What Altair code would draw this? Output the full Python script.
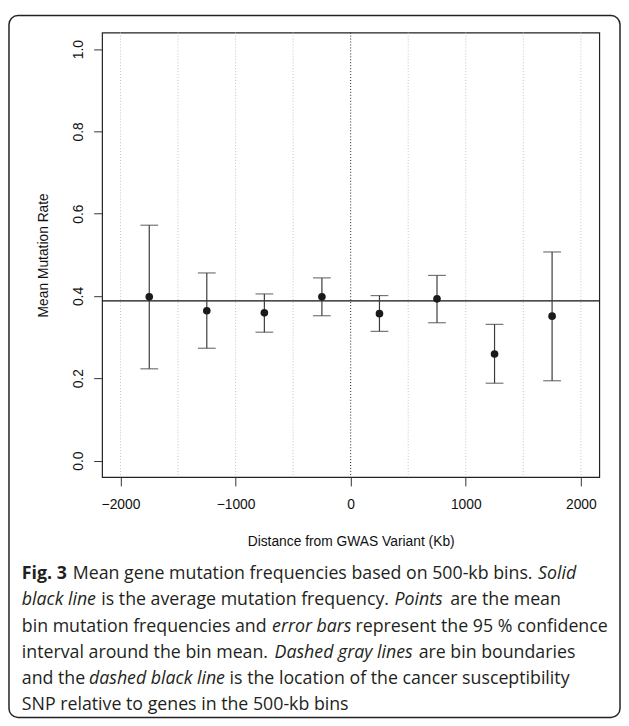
import altair as alt
import pandas as pd

# ---------------- data ----------------
bin_centers = [-1750, -1250, -750, -250, 250, 750, 1250, 1750]
bin_means = [0.398, 0.364, 0.359, 0.398, 0.357, 0.393, 0.259, 0.351]
ci_lower = [0.223, 0.273, 0.312, 0.352, 0.314, 0.335, 0.188, 0.194]
ci_upper = [0.572, 0.456, 0.405, 0.444, 0.401, 0.450, 0.331, 0.507]
overall_mean = [0.388]
bin_boundaries = [-2000, -1500, -1000, -500, 500, 1000, 1500, 2000]
snp_position = [0]
x_ticks = [-2000, -1000, 0, 1000, 2000]
y_ticks = [0.0, 0.2, 0.4, 0.6, 0.8, 1.0]

caption_lines = [
    [("Fig. 3", "bold"), ("Mean gene mutation frequencies based on 500-kb bins.", "normal"), ("Solid", "italic")],
    [("black line", "italic"), ("is the average mutation frequency.", "normal"), ("Points", "italic"), ("are the mean", "normal")],
    [("bin mutation frequencies and", "normal"), ("error bars", "italic"), ("represent the 95 % confidence", "normal")],
    [("interval around the bin mean.", "normal"), ("Dashed gray lines", "italic"), ("are bin boundaries", "normal")],
    [("and the", "normal"), ("dashed black line", "italic"), ("is the location of the cancer susceptibility", "normal")],
    [("SNP relative to genes in the 500-kb bins", "normal")],
]

# ---------------- layout (pixels) ----------------
PLOT_W, PLOT_H = 503.7, 450.2
PAD_L, PAD_T = 95.3, 20.3
ORIGIN_X, ORIGIN_Y = 8 + PAD_L, 8 + PAD_T
caption_x = [
    [22.0, 73.6, 545.0],
    [22.0, 102.5, 399.5, 456.0],
    [22.0, 275.5, 360.0],
    [22.0, 278.0, 424.0],
    [22.0, 90.0, 232.5],
    [22.0],
]
caption_y = [581.7, 608.3, 635.0, 661.7, 688.3, 715.0]
CAPTION_FONT = "Open Sans"
CAPTION_SIZE = 18

df = pd.DataFrame({"center": bin_centers, "mean": bin_means, "lo": ci_lower, "hi": ci_upper})
bounds = pd.DataFrame({"b": bin_boundaries})
snp = pd.DataFrame({"s": snp_position})
avg = pd.DataFrame({"m": overall_mean})

xscale = alt.Scale(domain=[-2160, 2160], nice=False, zero=False)
yscale = alt.Scale(domain=[-0.04, 1.04], nice=False, zero=False)

x_axis = alt.Axis(values=x_ticks, format="d", grid=False, domain=False,
                  tickSize=9, tickColor="#333", labelFont="Liberation Sans",
                  labelFontSize=14, labelColor="#111", labelBaseline="alphabetic",
                  labelPadding=23, title="Distance from GWAS Variant (Kb)",
                  titleFont="Liberation Sans", titleFontSize=14, titleFontWeight="normal",
                  titleColor="#111", titleBaseline="alphabetic", titleY=69.5)
y_axis = alt.Axis(values=y_ticks, format=".1f", grid=False, domain=False,
                  tickSize=8.5, tickColor="#333", labelFont="Liberation Sans",
                  labelFontSize=14, labelColor="#111", labelAngle=270,
                  labelAlign="center", labelBaseline="alphabetic", labelPadding=11.5,
                  title="Mean Mutation Rate", titleFont="Liberation Sans",
                  titleFontSize=14, titleFontWeight="normal", titleColor="#111",
                  titleAngle=270, titleBaseline="alphabetic", titleX=-55.3)

base = alt.Chart(df)

boundary_rules = alt.Chart(bounds).mark_rule(color="#c4c4c4", strokeWidth=1, strokeDash=[1, 2]).encode(
    x=alt.X("b:Q", scale=xscale, axis=x_axis))
snp_rule = alt.Chart(snp).mark_rule(color="#222", strokeWidth=1, strokeDash=[1, 2]).encode(
    x=alt.X("s:Q", scale=xscale))
avg_rule = alt.Chart(avg).mark_rule(color="#111", strokeWidth=1.2).encode(
    y=alt.Y("m:Q", scale=yscale, axis=y_axis))
err = base.mark_rule(color="#3a3a3a", strokeWidth=1.2).encode(
    x=alt.X("center:Q", scale=xscale), y=alt.Y("lo:Q", scale=yscale), y2="hi:Q")
cap_lo = base.mark_tick(color="#3a3a3a", orient="horizontal", size=18, thickness=1.2).encode(
    x=alt.X("center:Q", scale=xscale), y=alt.Y("lo:Q", scale=yscale))
cap_hi = base.mark_tick(color="#3a3a3a", orient="horizontal", size=18, thickness=1.2).encode(
    x=alt.X("center:Q", scale=xscale), y=alt.Y("hi:Q", scale=yscale))
pts = base.mark_circle(color="#1a1a1a", opacity=1, size=60).encode(
    x=alt.X("center:Q", scale=xscale), y=alt.Y("mean:Q", scale=yscale))

# figure border (rounded box)
border = alt.Chart(pd.DataFrame({"k": [0]})).mark_rect(
    fill=None, stroke="#222", strokeWidth=1.5, cornerRadius=9, clip=False).encode(
    x=alt.value(9 - ORIGIN_X), x2=alt.value(628 - ORIGIN_X),
    y=alt.value(11 - ORIGIN_Y), y2=alt.value(722 - ORIGIN_Y))

# caption segments
rows = []
for li, line in enumerate(caption_lines):
    for si, (txt, sty) in enumerate(line):
        rows.append({"t": txt, "sty": sty,
                     "px": caption_x[li][si] - ORIGIN_X,
                     "py": caption_y[li] - ORIGIN_Y})
cap_df = pd.DataFrame(rows)

def cap_layer(sty, **kw):
    return alt.Chart(cap_df).transform_filter(alt.datum.sty == sty).mark_text(
        align="left", baseline="alphabetic", font=CAPTION_FONT, fontSize=CAPTION_SIZE,
        color="#231f20", clip=False, **kw).encode(
        x=alt.X("px:Q", scale=None), y=alt.Y("py:Q", scale=None), text="t:N")

cap_bold = cap_layer("bold", fontWeight="bold")
cap_norm = cap_layer("normal")
cap_ital = cap_layer("italic", fontStyle="italic")

chart = alt.layer(
    boundary_rules, snp_rule, avg_rule, err, cap_lo, cap_hi, pts,
    border, cap_bold, cap_norm, cap_ital
).resolve_scale(x="shared", y="shared").properties(
    width=PLOT_W, height=PLOT_H,
    padding={"left": PAD_L, "top": PAD_T, "right": 629 - 8 - PAD_L - PLOT_W, "bottom": 722 - 8 - PAD_T - PLOT_H},
    autosize=alt.AutoSizeParams(type="none"),
    background="white",
).configure_view(stroke="#222", strokeWidth=1.2)

chart.save("out.html", embed_options={"renderer": "svg", "actions": False})
